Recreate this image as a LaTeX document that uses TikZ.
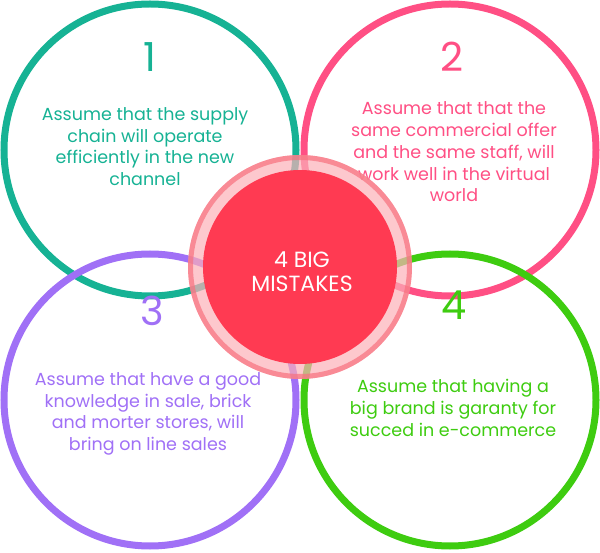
\documentclass[tikz,border=0pt]{standalone}
\usepackage{fontspec}
\setmainfont{Poppins}
\definecolor{cteal}{RGB}{22,178,148}
\definecolor{cpink}{RGB}{255,79,132}
\definecolor{cpurple}{RGB}{160,112,246}
\definecolor{cgreen}{RGB}{62,204,16}
\definecolor{cred}{RGB}{255,58,82}
\definecolor{ringdark}{RGB}{248,112,126}
\definecolor{ringlight}{RGB}{252,176,184}
\tikzset{
  bigcirc/.style={circle, draw=#1, line width=7pt, minimum size=292pt, inner sep=0pt},
  numlabel/.style={text=#1, font=\fontsize{40}{44}\selectfont, inner sep=0pt},
  bodytext/.style={text=#1, align=center, font=\fontsize{17.5}{21.7}\selectfont, inner sep=0pt},
}
\begin{document}
\begin{tikzpicture}[x=1pt,y=-1pt]
\useasboundingbox (0,0) rectangle (600,553);
% four circles
\node[bigcirc=cteal] (c1) at (150,150) {};
\node[bigcirc=cpink] (c2) at (450,150) {};
\node[bigcirc=cpurple] (c3) at (150,400) {};
\node[bigcirc=cgreen] (c4) at (450,400) {};
% numbers
\node[numlabel=cteal] (n1) at (150,57) {1};
\node[numlabel=cpink] (n2) at (452,57) {2};
\node[numlabel=cpurple] (n3) at (152,311) {3};
\node[numlabel=cgreen] (n4) at (454,305) {4};
% texts
\node[bodytext=cteal] (t1) at (145,146.5) {Assume that the supply\\chain will operate\\efficiently in the new\\channel};
\node[bodytext=cpink] (t2) at (454,152) {Assume that that the\\same commercial offer\\and the same staff, will\\work well in the virtual\\world};
\node[bodytext=cpurple] (t3) at (148,414) {Assume that have a good\\knowledge in sale, brick\\and morter stores, will\\bring on line sales};
\node[bodytext=cgreen] (t4) at (453,408) {Assume that having a\\big brand is garanty for\\succed in e-commerce};
% center ring
\node[circle, fill=ringlight, fill opacity=0.7, minimum size=224pt, inner sep=0pt] (ring) at (300,267) {};
\node[circle, draw=ringdark, draw opacity=0.7, line width=5pt, minimum size=219pt, inner sep=0pt] (ringedge) at (300,267) {};
\node[circle, fill=cred, minimum size=194pt, inner sep=0pt] (core) at (300,267) {};
\node[text=white, align=center, font=\fontsize{22}{24}\selectfont, inner sep=0pt] (title) at (302,271.5) {4 BIG\\MISTAKES};
\end{tikzpicture}
\end{document}
